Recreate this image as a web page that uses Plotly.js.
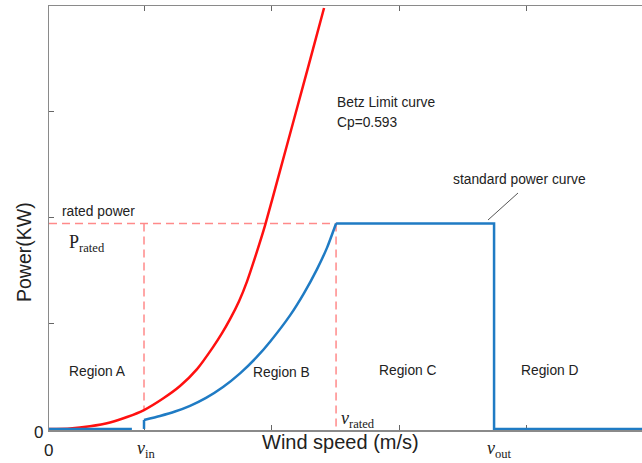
<!DOCTYPE html>
<html><head><meta charset="utf-8">
<script src="https://cdn.plot.ly/plotly-3.0.1.min.js"></script>
<style>html,body{margin:0;padding:0;background:#fff}#plot{width:642px;height:463px}</style>
</head><body><div id="plot"></div>
<script>
// Betz limit curve (red), wind speed (m/s) vs power
const betzSpeed = [0, 0.824, 1.608, 2.392, 3.059, 3.725, 4.471, 5.137, 5.804, 6.431, 6.784, 7.098, 7.451, 7.765, 8.118, 8.471, 9.059, 9.569, 9.961, 10.353, 10.784];
const betzPower = [0, 0.0047, 0.025, 0.061, 0.113, 0.179, 0.288, 0.406, 0.566, 0.774, 0.906, 1.038, 1.208, 1.396, 1.651, 1.925, 2.443, 2.896, 3.245, 3.594, 3.981];
// standard power curve (blue): region between cut-in and rated speed
const rampSpeed = [3.725, 4.353, 4.941, 5.529, 6.157, 6.824, 7.490, 8.157, 8.667, 9.451, 10.0, 10.51, 10.902, 11.255];
const rampPower = [0.085, 0.123, 0.165, 0.219, 0.294, 0.397, 0.526, 0.683, 0.825, 1.074, 1.285, 1.512, 1.715, 1.943];
// standard power curve (blue): zero below cut-in, rated plateau, cut-out
const flatSpeed = [0, 3.25, null, 3.725, 3.725, null, 11.255, 17.45, 17.45, 23.3];
const flatPower = [0, 0, null, 0, 0.085, null, 1.943, 1.943, 0, 0];
const vIn = 3.725, vRated = 11.255, vOut = 17.45, pRated = 1.943, betzAtVin = 0.179;
const xTicks = [3.725, 8.73, 13.73, 18.73];
const yTicks = [1, 2, 3];

const W = 642, H = 463, L = 49, R = 0, T = 6, B = 33;
const pw = W - L - R, ph = H - T - B;
const px = x => (x - L) / pw;
const py = y => (H - B - y) / ph;

const sans = 'Liberation Sans, Arial, sans-serif';
const serif = 'Liberation Serif, Times New Roman, serif';
function txt(t, x, y, size, opts) {
  return Object.assign({text: t, xref: 'paper', yref: 'paper', x: px(x), y: py(y), showarrow: false,
    xanchor: 'center', yanchor: 'middle', font: {family: sans, size: size, color: '#222'}}, opts || {});
}
const dashCol = '#ff8a8a';
const blue = '#1f7bc4';
const layout = {
  width: W, height: H, margin: {l: L, r: R, t: T, b: B}, showlegend: false,
  paper_bgcolor: '#fff', plot_bgcolor: '#fff',
  xaxis: {range: [0, 23.25], showgrid: false, zeroline: false, showline: true, linecolor: '#8a8a8a', linewidth: 1.5,
    mirror: 'ticks', ticks: 'inside', ticklen: 5, tickcolor: '#666', tickwidth: 1, tickvals: xTicks, showticklabels: false,
    layer: 'below traces'},
  yaxis: {range: [-0.01, 4], showgrid: false, zeroline: false, showline: true, linecolor: '#8a8a8a', linewidth: 1.5,
    ticks: 'inside', ticklen: 5, tickcolor: '#666', tickwidth: 1, tickvals: yTicks, showticklabels: false,
    layer: 'below traces'},
  shapes: [
    {type: 'line', xref: 'x', yref: 'y', x0: 0, x1: vRated, y0: pRated, y1: pRated, line: {color: dashCol, width: 1.5, dash: '8px,5px'}, layer: 'below'},
    {type: 'line', xref: 'x', yref: 'y', x0: vIn, x1: vIn, y0: pRated, y1: betzAtVin, line: {color: dashCol, width: 1.5, dash: '8px,5px'}, layer: 'below'},
    {type: 'line', xref: 'x', yref: 'y', x0: vRated, x1: vRated, y0: pRated, y1: 0, line: {color: dashCol, width: 1.5, dash: '8px,5px'}, layer: 'below'},
    {type: 'line', xref: 'paper', yref: 'paper', x0: px(488), x1: px(518), y0: py(220), y1: py(193), line: {color: '#555', width: 1}}
  ],
  annotations: [
    txt('rated power', 98, 212, 13.8),
    txt('P<sub>rated</sub>', 87, 243, 18, {font: {family: serif, size: 18, color: '#222'}}),
    txt('Region A', 97, 371, 13.8),
    txt('Region B', 281, 372, 13.8),
    txt('Region C', 408, 370, 13.8),
    txt('Region D', 550, 370, 13.8),
    txt('Betz Limit curve', 335, 103, 13.8, {xanchor: 'left'}),
    txt('Cp=0.593', 335, 122, 13.8, {xanchor: 'left'}),
    txt('standard power curve', 519, 179, 13.8),
    txt('0', 38, 432, 17),
    txt('0', 48, 450, 17),
    txt('<i>v</i><sub>in</sub>', 146, 449, 18, {font: {family: serif, size: 18, color: '#222'}}),
    txt('<i>v</i><sub>rated</sub>', 358, 419, 18, {font: {family: serif, size: 18, color: '#222'}}),
    txt('<i>v</i><sub>out</sub>', 499, 449, 18, {font: {family: serif, size: 18, color: '#222'}}),
    txt('Wind speed (m/s)', 340, 442, 20),
    txt('Power(KW)', 24, 252, 19.5, {textangle: -90})
  ]
};
const data = [
  {x: betzSpeed, y: betzPower, mode: 'lines', line: {color: '#ff1010', width: 2.5, shape: 'spline', smoothing: 0.6}},
  {x: rampSpeed, y: rampPower, mode: 'lines', line: {color: blue, width: 2.5, shape: 'spline', smoothing: 0.6}},
  {x: flatSpeed, y: flatPower, mode: 'lines', line: {color: blue, width: 2.5}, connectgaps: false}
];
Plotly.newPlot('plot', data, layout, {staticPlot: true});
</script></body></html>
